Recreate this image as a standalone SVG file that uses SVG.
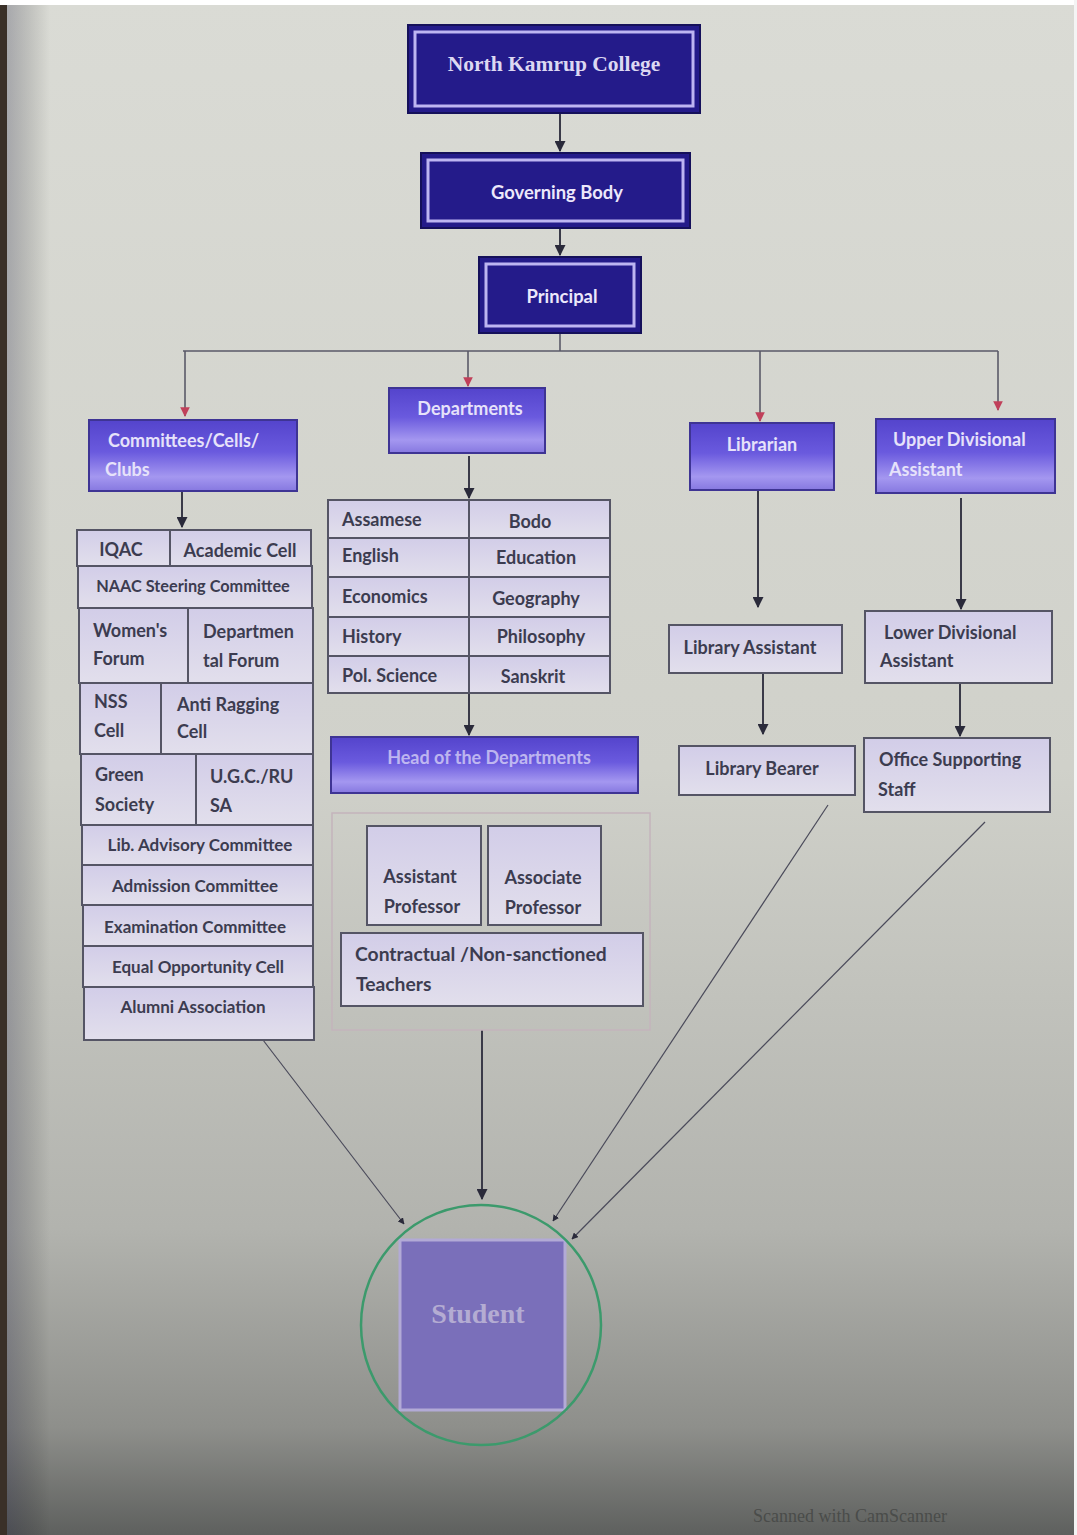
<svg xmlns="http://www.w3.org/2000/svg" width="1077" height="1535" viewBox="0 0 1077 1535">
<defs>
<linearGradient id="bg" x1="0" y1="0" x2="0" y2="1">
<stop offset="0" stop-color="#dadbd5"/>
<stop offset="0.5" stop-color="#d0d1ca"/>
<stop offset="0.8" stop-color="#b2b3ae"/>
<stop offset="0.93" stop-color="#8e8f8b"/>
<stop offset="1" stop-color="#5e605e"/>
</linearGradient>
<linearGradient id="bgL" x1="0" y1="0" x2="1" y2="0">
<stop offset="0" stop-color="#1a1a40" stop-opacity="0.3"/>
<stop offset="1" stop-color="#000" stop-opacity="0"/>
</linearGradient>
<linearGradient id="pur" x1="0" y1="0" x2="0" y2="1">
<stop offset="0" stop-color="#5444cc"/>
<stop offset="0.45" stop-color="#6a5ade"/>
<stop offset="0.8" stop-color="#a497f0"/>
<stop offset="1" stop-color="#8678e0"/>
</linearGradient>
<linearGradient id="cell" x1="0" y1="0" x2="0" y2="1">
<stop offset="0" stop-color="#d2cde8"/>
<stop offset="1" stop-color="#e2dfec"/>
</linearGradient>
<marker id="ar" viewBox="0 0 10 10" refX="9" refY="5" markerWidth="5.5" markerHeight="5.5" orient="auto">
<path d="M0,0 L10,5 L0,10 z" fill="#2a2a3a"/>
</marker>
<marker id="arR" viewBox="0 0 10 10" refX="9" refY="5" markerWidth="6" markerHeight="6" orient="auto">
<path d="M0,0 L10,5 L0,10 z" fill="#c0405a"/>
</marker>
</defs>
<style>
.dark{fill:#241b8a;stroke:#15105a;stroke-width:2}
.inner{fill:none;stroke:#bdb5f2;stroke-width:3}
.pbox{fill:url(#pur);stroke:#3e3494;stroke-width:2}
.cell{fill:url(#cell);stroke:#555565;stroke-width:2}
.tw{font-family:Lato,"Liberation Sans",sans-serif;font-weight:bold;font-size:18.4px;fill:#ece8fb}
.tp{font-family:Lato,"Liberation Sans",sans-serif;font-weight:bold;font-size:18px;fill:#e6e2fa}
.tc{font-family:Lato,"Liberation Sans",sans-serif;font-weight:bold;font-size:18px;fill:#3c3c50}
.sm{font-size:17px}
.xs{font-size:16.3px}
.lg{font-size:19.3px}
.ln{stroke:#3a3a48;stroke-width:2;fill:none}
.lr{stroke:#5a5a68;stroke-width:1.6;fill:none}
.ld{stroke:#4a4a5a;stroke-width:1.2;fill:none}
.mid{text-anchor:middle}
</style>
<rect x="0" y="0" width="1077" height="1535" fill="url(#bg)"/>
<rect x="0" y="0" width="50" height="1535" fill="url(#bgL)"/>
<rect x="0" y="0" width="7" height="1535" fill="#3a3028"/>
<rect x="0" y="0" width="1077" height="5" fill="#ffffff"/>
<rect x="1074" y="0" width="3" height="1535" fill="#f4f4f4"/>

<g id="connectors">
<path class="ln" d="M560,113 V151" marker-end="url(#ar)"/>
<path class="ln" d="M560,228 V255" marker-end="url(#ar)"/>
<path class="lr" d="M560,333 V351 M183,351 H998"/>
<path class="lr" d="M185,351 V416" marker-end="url(#arR)"/>
<path class="lr" d="M468,351 V386" marker-end="url(#arR)"/>
<path class="lr" d="M760,351 V421" marker-end="url(#arR)"/>
<path class="lr" d="M998,351 V410" marker-end="url(#arR)"/>
<path class="ln" d="M182,491 V527" marker-end="url(#ar)"/>
<path class="ln" d="M469,456 V498" marker-end="url(#ar)"/>
<path class="ln" d="M469,500 V735" marker-end="url(#ar)"/>
<path class="ln" d="M758,490 V607" marker-end="url(#ar)"/>
<path class="ln" d="M763,673 V734" marker-end="url(#ar)"/>
<path class="ln" d="M961,498 V609" marker-end="url(#ar)"/>
<path class="ln" d="M960,683 V736" marker-end="url(#ar)"/>
<path class="ld" d="M263,1040 L404,1224" marker-end="url(#ar)"/>
<path class="ln" d="M482,1030 V1199" marker-end="url(#ar)"/>
<path class="ld" d="M828,805 L553,1221" marker-end="url(#ar)"/>
<path class="ld" d="M985,822 L572,1239" marker-end="url(#ar)"/>
</g>

<g id="north-kamrup-college">
<rect class="dark" x="408" y="25" width="292" height="88"/>
<rect class="inner" x="415" y="32" width="278" height="74"/>
<text x="554" y="71" class="mid" font-family="Liberation Serif,serif" font-weight="bold" font-size="21.5" fill="#dcd8f2">North Kamrup College</text>
</g>
<g id="governing-body">
<rect class="dark" x="421" y="153" width="269" height="75"/>
<rect class="inner" x="428" y="160" width="255" height="61"/>
<text x="557" y="199" class="tw mid">Governing Body</text>
</g>
<g id="principal">
<rect class="dark" x="479" y="257" width="162" height="76"/>
<rect class="inner" x="486" y="264" width="148" height="62"/>
<text x="562" y="303" class="tw mid">Principal</text>
</g>

<g id="committees">
<rect class="pbox" x="89" y="420" width="208" height="71"/>
<text x="108" y="447" class="tp">Committees/Cells/</text>
<text x="105" y="476" class="tp">Clubs</text>
</g>
<g id="departments">
<rect class="pbox" x="389" y="388" width="156" height="65"/>
<text x="470" y="415" class="tp mid">Departments</text>
</g>
<g id="librarian">
<rect class="pbox" x="690" y="423" width="144" height="67"/>
<text x="762" y="451" class="tp mid">Librarian</text>
</g>
<g id="upper-divisional-assistant">
<rect class="pbox" x="876" y="419" width="179" height="74"/>
<text x="893" y="446" class="tp">Upper Divisional</text>
<text x="889" y="476" class="tp">Assistant</text>
</g>

<g id="committee-list">
<rect class="cell" x="77" y="530" width="93" height="36"/>
<text x="121" y="556" class="tc mid">IQAC</text>
<rect class="cell" x="170" y="530" width="141" height="36"/>
<text x="240" y="557" class="tc mid">Academic Cell</text>
<rect class="cell" x="78" y="566" width="234" height="42"/>
<text x="193" y="592" class="tc mid xs">NAAC Steering Committee</text>
<rect class="cell" x="79" y="608" width="109" height="75"/>
<text x="93" y="637" class="tc">Women's</text>
<text x="93" y="665" class="tc">Forum</text>
<rect class="cell" x="188" y="608" width="125" height="75"/>
<text x="203" y="638" class="tc">Departmen</text>
<text x="203" y="667" class="tc">tal Forum</text>
<rect class="cell" x="80" y="683" width="81" height="71"/>
<text x="94" y="708" class="tc">NSS</text>
<text x="94" y="737" class="tc">Cell</text>
<rect class="cell" x="161" y="683" width="152" height="71"/>
<text x="177" y="711" class="tc">Anti Ragging</text>
<text x="177" y="738" class="tc">Cell</text>
<rect class="cell" x="81" y="754" width="115" height="71"/>
<text x="95" y="781" class="tc">Green</text>
<text x="95" y="811" class="tc">Society</text>
<rect class="cell" x="196" y="754" width="117" height="71"/>
<text x="210" y="783" class="tc">U.G.C./RU</text>
<text x="210" y="812" class="tc">SA</text>
<rect class="cell" x="82" y="825" width="231" height="40"/>
<text x="200" y="851" class="tc mid sm">Lib. Advisory Committee</text>
<rect class="cell" x="82" y="865" width="231" height="40"/>
<text x="195" y="892" class="tc mid sm">Admission Committee</text>
<rect class="cell" x="83" y="905" width="230" height="41"/>
<text x="195" y="933" class="tc mid sm">Examination Committee</text>
<rect class="cell" x="83" y="946" width="230" height="41"/>
<text x="198" y="973" class="tc mid sm">Equal Opportunity Cell</text>
<rect class="cell" x="84" y="987" width="230" height="53"/>
<text x="193" y="1013" class="tc mid sm">Alumni Association</text>
</g>

<g id="department-list">
<rect class="cell" x="328" y="500" width="141" height="38"/>
<rect class="cell" x="469" y="500" width="141" height="38"/>
<rect class="cell" x="328" y="538" width="141" height="39"/>
<rect class="cell" x="469" y="538" width="141" height="39"/>
<rect class="cell" x="328" y="577" width="141" height="40"/>
<rect class="cell" x="469" y="577" width="141" height="40"/>
<rect class="cell" x="328" y="617" width="141" height="39"/>
<rect class="cell" x="469" y="617" width="141" height="39"/>
<rect class="cell" x="328" y="656" width="141" height="37"/>
<rect class="cell" x="469" y="656" width="141" height="37"/>
<text x="342" y="526" class="tc">Assamese</text>
<text x="530" y="528" class="tc mid">Bodo</text>
<text x="342" y="562" class="tc">English</text>
<text x="536" y="564" class="tc mid">Education</text>
<text x="342" y="603" class="tc">Economics</text>
<text x="536" y="605" class="tc mid">Geography</text>
<text x="342" y="643" class="tc">History</text>
<text x="541" y="643" class="tc mid">Philosophy</text>
<text x="342" y="682" class="tc">Pol. Science</text>
<text x="533" y="683" class="tc mid">Sanskrit</text>
</g>

<g id="head-of-departments">
<rect class="pbox" x="331" y="737" width="307" height="56"/>
<text x="489" y="764" class="tp mid" fill-opacity="0.7">Head of the Departments</text>
</g>

<g id="teachers">
<rect x="332" y="813" width="318" height="217" fill="none" stroke="#c4b4bc" stroke-width="1.5"/>
<rect class="cell" x="367" y="826" width="114" height="99"/>
<text x="420" y="883" class="tc mid">Assistant</text>
<text x="422" y="913" class="tc mid">Professor</text>
<rect class="cell" x="488" y="826" width="113" height="99"/>
<text x="543" y="884" class="tc mid">Associate</text>
<text x="543" y="914" class="tc mid">Professor</text>
<rect class="cell" x="341" y="933" width="302" height="73"/>
<text x="355" y="961" class="tc lg">Contractual /Non-sanctioned</text>
<text x="356" y="991" class="tc lg">Teachers</text>
</g>

<g id="library-assistant">
<rect class="cell" x="669" y="625" width="173" height="48"/>
<text x="750" y="654" class="tc mid">Library Assistant</text>
</g>
<g id="library-bearer">
<rect class="cell" x="679" y="746" width="176" height="49"/>
<text x="762" y="775" class="tc mid">Library Bearer</text>
</g>
<g id="lower-divisional-assistant">
<rect class="cell" x="865" y="611" width="187" height="72"/>
<text x="884" y="639" class="tc">Lower Divisional</text>
<text x="880" y="667" class="tc">Assistant</text>
</g>
<g id="office-supporting-staff">
<rect class="cell" x="864" y="738" width="186" height="74"/>
<text x="879" y="766" class="tc">Office Supporting</text>
<text x="878" y="796" class="tc">Staff</text>
</g>

<g id="student">
<rect x="400" y="1240" width="165" height="170" fill="#7a6fba" stroke="#b2aad6" stroke-width="3"/>
<circle cx="481" cy="1325" r="120" fill="none" stroke="#3c9a6c" stroke-width="2.5"/>
<text x="478" y="1323" class="mid" font-family="Liberation Serif,serif" font-weight="bold" font-size="28" fill="#b4acd2">Student</text>
</g>

<text x="850" y="1522" class="mid" font-family="Liberation Serif,serif" font-size="18" fill="#4a4c4a">Scanned with CamScanner</text>
</svg>
